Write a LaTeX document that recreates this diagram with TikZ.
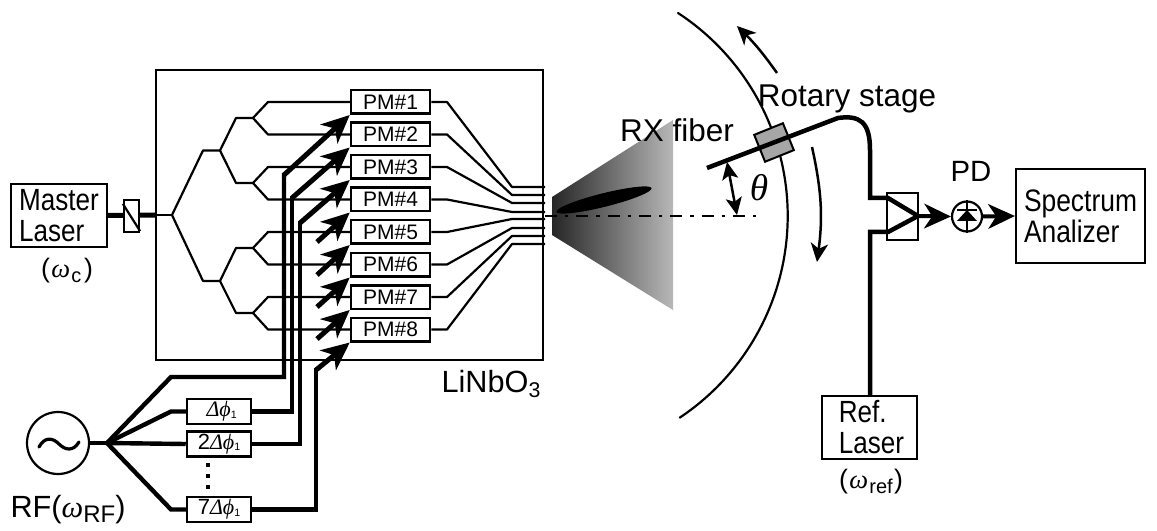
\documentclass[tikz,border=0pt]{standalone}
\usepackage{fontspec}
\setmainfont{Liberation Sans}
\newfontfamily\grk{Liberation Serif}[ItalicFont=* Italic]
\newfontfamily\condf{Liberation Sans}[FakeStretch=0.85]
\usetikzlibrary{arrows.meta,calc}
\newcommand\pxu{0.75pt}
\newcommand\grkit[1]{{\grk\itshape #1}}
\tikzset{
  x=0.75pt,y=-0.75pt,
  boxthin/.style={draw,line width=2.2*\pxu,inner sep=0pt,fill=white,align=left},
  pmbox/.style={draw,line width=2.5*\pxu,inner sep=0pt,fill=white,minimum width=79*\pxu,minimum height=23.5*\pxu,font=\fontsize{15.75}{16}\selectfont},
  phbox/.style={draw,line width=2.5*\pxu,inner sep=0pt,fill=white,minimum width=64*\pxu,minimum height=25*\pxu,font=\fontsize{16.5}{17}\selectfont},
  wg/.style={line width=2.2*\pxu,line join=round},
  rfline/.style={line width=4.4*\pxu,line join=miter},
  fibre/.style={line width=4.5*\pxu,line join=miter},
  rfarrow/.style={line width=5*\pxu,-{Stealth[length=21pt,width=19pt,inset=6pt]}},
  bigarrow/.style={line width=4*\pxu,-{Stealth[length=20pt,width=18.5pt,inset=6pt]}},
  thinarrow/.style={line width=2.5*\pxu,-{Stealth[length=14pt,width=13pt,inset=4pt]}},
  dbarrow/.style={line width=2.5*\pxu,{Stealth[length=13pt,width=12pt,inset=3pt]}-{Stealth[length=13pt,width=12pt,inset=3pt]}},
  lbl/.style={anchor=base,inner sep=0pt},
  dotsq/.style={fill=black,inner sep=0pt,minimum size=4*\pxu},
}
\begin{document}
\begin{tikzpicture}
\useasboundingbox (0,0) rectangle (1157,531);

% chip
\node[draw,line width=2.2*\pxu,inner sep=0pt,minimum width=387*\pxu,minimum height=290*\pxu] (chip) at (349.5,215) {};
\node[lbl] (linbo) at (491,392) {\fontsize{23}{23}\selectfont LiNbO\raisebox{-4pt}{\fontsize{16}{16}\selectfont 3}};

% PM boxes
\foreach \n/\yy in {1/102,2/134.5,3/167,4/199.5,5/232,6/264.5,7/297,8/329.5}
  \node[pmbox] (pm\n) at (390.5,\yy) {PM\#\n};

% splitter tree coordinates
\coordinate (in) at (172,215);
\coordinate (a1) at (203,150.5); \coordinate (a2) at (220,150.5);
\coordinate (b1) at (203,281);   \coordinate (b2) at (220,281);
\coordinate (c1) at (236,118);   \coordinate (c2) at (253,118);
\coordinate (d1) at (236,183);   \coordinate (d2) at (253,183);
\coordinate (e1) at (236,248);   \coordinate (e2) at (253,248);
\coordinate (f1) at (236,313);   \coordinate (f2) at (253,313);
\draw[wg] (in) -- (a1) -- (a2) -- (c1) -- (c2);
\draw[wg] (a2) -- (d1) -- (d2);
\draw[wg] (in) -- (b1) -- (b2) -- (e1) -- (e2);
\draw[wg] (b2) -- (f1) -- (f2);
\draw[wg] (c2) -- (268,102) -- (pm1.west);
\draw[wg] (c2) -- (268,134.5) -- (pm2.west);
\draw[wg] (d2) -- (268,167) -- (pm3.west);
\draw[wg] (d2) -- (268,199.5) -- (pm4.west);
\draw[wg] (e2) -- (268,232) -- (pm5.west);
\draw[wg] (e2) -- (268,264.5) -- (pm6.west);
\draw[wg] (f2) -- (268,297) -- (pm7.west);
\draw[wg] (f2) -- (268,329.5) -- (pm8.west);

% outputs
\foreach \n/\yy/\ye in {1/102/187,2/134.5/195,3/167/203,4/199.5/212,5/232/219,6/264.5/228,7/297/236,8/329.5/244}{
  \coordinate (o\n) at (545,\ye);
  \draw[wg] (pm\n.east) -- (447,\yy) -- (512,\ye) -- (o\n);
}

% master laser, isolator
\node[boxthin,minimum width=96*\pxu,minimum height=63*\pxu,font=\condf\fontsize{23}{23.25}\selectfont] (master) at (59,215.5) {Master\\Laser};
\node[lbl] (omc) at (67,277) {\fontsize{20}{20}\selectfont (\hspace{1pt}\grkit{ω}\hspace{1pt}\raisebox{-4pt}{\fontsize{15}{15}\selectfont c}\hspace{2pt})};
\draw[line width=5*\pxu] (master.east) -- (chip.west);
\draw[wg] (chip.west) -- (in);
\node[boxthin,minimum width=15*\pxu,minimum height=32*\pxu] (iso) at (131.5,216) {};
\draw[wg] (iso.north west) ++(0,5) -- ($(iso.south east)+(0,-2)$);

% RF source
\node[draw,circle,line width=2.2*\pxu,inner sep=0pt,minimum size=62*\pxu] (rf) at (58,443) {};
\draw[line width=3.2*\pxu,line cap=round] (39,447) .. controls (45,436) and (53,438) .. (59,444) .. controls (65,450) and (73,452) .. (79,442);
\node[lbl] (rflab) at (68,517) {\fontsize{23}{24}\selectfont RF(\grkit{ω}\raisebox{-4pt}{\fontsize{18}{18}\selectfont RF})};
\coordinate (fan) at (107,443);
\draw[rfline] (rf.east) -- (fan);

% phase shifters
\node[phbox] (ph1) at (219,411.5) {\hspace{4pt}\grkit{Δϕ}\raisebox{-1pt}{\fontsize{8}{8}\selectfont 1}};
\node[phbox] (ph2) at (219,444) {2\grkit{Δϕ}\raisebox{-1pt}{\fontsize{8}{8}\selectfont 1}};
\node[phbox] (ph7) at (219,509.5) {7\grkit{Δϕ}\raisebox{-1pt}{\fontsize{8}{8}\selectfont 1}};
\node[dotsq] (dot1) at (208,465) {};
\node[dotsq] (dot2) at (208,476) {};
\node[dotsq] (dot3) at (208,487) {};

% RF feeds
\coordinate (r1) at (171,377);
\coordinate (r2) at (171,411.5);
\coordinate (r7) at (171,509.5);
\draw[rfline] (fan) -- (r1) -- (284,377) -- (284,173);
\draw[rfarrow] (284,175) -- (pm1.south west);
\draw[rfline] (fan) -- (r2) -- (ph1.west);
\draw[rfline] (fan) -- (ph2.west);
\draw[rfline] (fan) -- (r7) -- (ph7.west);
\draw[rfline] (ph1.east) -- (292,411.5) -- (292,196);
\draw[rfarrow] (292,198) -- (pm2.south west);
\draw[rfline] (ph2.east) -- (300,444) -- (300,221);
\draw[rfarrow] (300,223) -- (pm3.south west);
\draw[rfline] (ph7.east) -- (316,509.5) -- (316,368);
\draw[rfarrow] (316,370) -- (pm8.south west);
\coordinate (t4) at (317,242); \coordinate (t5) at (317,275);
\coordinate (t6) at (317,307); \coordinate (t7) at (317,339);
\draw[rfarrow] (t4) -- (pm4.south west);
\draw[rfarrow] (t5) -- (pm5.south west);
\draw[rfarrow] (t6) -- (pm6.south west);
\draw[rfarrow] (t7) -- (pm7.south west);

% radiation cone and beam
\shade[left color=black!85,right color=black!28] (552,197) -- (673,120) -- (673,310) -- (552,235) -- cycle;
\fill[black,shift={(604,200)},rotate=14] (0,0) ellipse (49 and 6.8);
\coordinate (axs) at (545,216);
\coordinate (axe) at (757,216);
\draw[line width=2.5*\pxu,dash pattern=on 9pt off 6pt on 2.5pt off 6pt] (axs) -- (axe);
\node[lbl] (rx) at (677,142) {\fontsize{23.6}{24}\selectfont RX fiber};

% arc
\coordinate (arcs) at (678,13);
\draw[line width=2.2*\pxu,line cap=round] (arcs) arc[start angle=-56.8,end angle=56.3,radius=242.5];
\coordinate (ua1) at (777,73); \coordinate (ua2) at (737,26);
\draw[thinarrow] (ua1) to[bend right=5] (ua2);
\coordinate (la1) at (812,147); \coordinate (la2) at (817,262);
\draw[thinarrow] (la1) to[bend left=10] (la2);

% rotary stage
\node[draw,line width=2*\pxu,fill=black!35,inner sep=0pt,minimum width=31*\pxu,minimum height=29*\pxu,rotate=22] (stage) at (774,142.5) {};
\coordinate (fs) at (707,168);
\coordinate (fb) at (838,118);
\coordinate (cu) at (888,198);
\coordinate (cl) at (888,232);
\coordinate (ct) at (918,216);
\node[boxthin,minimum width=31*\pxu,minimum height=47*\pxu] (comb) at (902.5,216.5) {};
\node[boxthin,minimum width=95*\pxu,minimum height=63*\pxu,font=\condf\fontsize{23}{23.25}\selectfont] (ref) at (869.5,427.5) {\hspace*{3pt}Ref.\\\hspace*{3pt}Laser};
\draw[fibre] (fs) -- (fb) .. controls (860,115) and (870,122) .. (870,150) -- (870,198) -- (cu) -- (ct);
\draw[fibre] (ref.north -| 870,0) -- (870,232) -- (cl) -- (ct);
\node[lbl] (rot) at (847,107) {\fontsize{23.6}{24}\selectfont Rotary stage};
\coordinate (th1) at (727,162); \coordinate (th2) at (737,215);
\draw[dbarrow] (th1) -- (th2);
\node[inner sep=0pt] (theta) at (759,188) {\fontsize{28}{28}\selectfont\grkit{θ}};
\node[lbl] (omr) at (871,488) {\fontsize{20}{20}\selectfont (\hspace{1pt}\grkit{ω}\hspace{1pt}\raisebox{-4pt}{\fontsize{15}{15}\selectfont ref}\hspace{1pt})};

% PD and analyser
\node[draw,circle,line width=2.2*\pxu,inner sep=0pt,minimum size=30*\pxu] (pd) at (967,216.5) {};
\node[lbl] (pdl) at (971,182) {\fontsize{22}{22}\selectfont PD};
\draw[line width=1.8*\pxu] (pd.north) -- (pd.south);
\draw[line width=1.8*\pxu] (957,210) -- (977,210);
\fill (967,210) -- (977,221) -- (957,221) -- cycle;
\node[boxthin,minimum width=129*\pxu,minimum height=94*\pxu,font=\condf\fontsize{23.3}{23.25}\selectfont] (sa) at (1080.5,216) {Spectrum\\Analizer};
\draw[bigarrow] (ct) -- (pd.west);
\draw[bigarrow] (pd.east) -- (sa.west);
\end{tikzpicture}
\end{document}
